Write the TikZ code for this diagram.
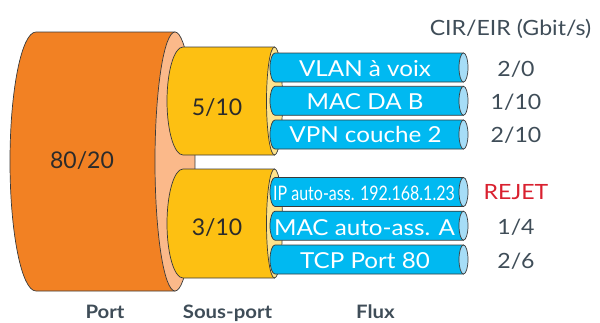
\documentclass[tikz,border=0pt]{standalone}
\usepackage{fontspec}
\setmainfont{Lato}
\newfontfamily\condfont[FakeStretch=0.8]{Lato}
\newfontfamily\widefont[FakeStretch=1.1]{Lato}

\definecolor{portorange}{HTML}{F28123}
\definecolor{portface}{HTML}{FBB98A}
\definecolor{subyellow}{HTML}{FDC012}
\definecolor{subface}{HTML}{FEE38C}
\definecolor{flowblue}{HTML}{00B9F1}
\definecolor{flowface}{HTML}{A6DDF7}
\definecolor{outline}{HTML}{3A3A3A}
\definecolor{slate}{HTML}{3F4D58}
\definecolor{rejectred}{HTML}{D9202F}
\definecolor{darktext}{HTML}{2B2B2B}

% cylinder lying on its side:
% #1 centre y, #2 half height, #3 back arc centre x, #4 back arc x radius,
% #5 front face centre x, #6 front face x radius, #7 body colour, #8 face colour
\newcommand\drawcyl[8]{%
  \filldraw[cylline, fill=#7] (#5,#1-#2) -- (#3,#1-#2)
    arc[start angle=270, end angle=90, x radius=#4, y radius=#2]
    -- (#5,#1+#2) -- cycle;
  \filldraw[cylline, fill=#8] (#5,#1) ellipse[x radius=#6, y radius=#2];
}
\newcommand\flowtube[1]{\drawcyl{#1}{14.5}{275}{5}{463.5}{4.5}{flowblue}{flowface}}

\begin{document}
\begin{tikzpicture}[x=1pt, y=-1pt,
  cylline/.style={draw=outline, line width=0.7pt},
  flowtext/.style={anchor=base, text=white, font=\widefont\fontsize{22}{26}\selectfont, inner sep=0pt},
  ratetext/.style={anchor=base, text=slate, font=\widefont\fontsize{21}{25}\selectfont, inner sep=0pt},
  cyltext/.style={anchor=base, text=darktext, font=\fontsize{23}{27}\selectfont, inner sep=0pt},
  legendtext/.style={anchor=base, text=slate, font=\widefont\bfseries\fontsize{18.5}{22}\selectfont, inner sep=0pt}]
\useasboundingbox (0,0) rectangle (600,322);

% port
\drawcyl{161.5}{129.5}{36}{26}{175}{20}{portorange}{portface}
% sub-ports
\drawcyl{101}{54}{183}{16}{274.5}{8}{subyellow}{subface}
\drawcyl{223.5}{54.5}{183}{16}{274.5}{8}{subyellow}{subface}
% flows
\flowtube{67.5}
\flowtube{100.8}
\flowtube{134.5}
\flowtube{192}
\flowtube{225.7}
\flowtube{259.5}

% texts on the cylinders
\node[cyltext] (port) at (82,168) {80/20};
\node[cyltext] (sub1) at (217,115) {5/10};
\node[cyltext] (sub2) at (217,235) {3/10};

\node[flowtext] (f1) at (365,76) {VLAN à voix};
\node[flowtext] (f2) at (365,109.5) {MAC DA B};
\node[flowtext] (f3) at (365.5,142.5) {VPN couche 2};
\node[flowtext, font=\condfont\fontsize{20}{24}\selectfont] (f4) at (364,200) {IP auto-ass. 192.168.1.23};
\node[flowtext] (f5) at (364.5,235) {MAC auto-ass. A};
\node[flowtext] (f6) at (365,268) {TCP Port 80};

% rates
\node[ratetext] (head) at (510.5,35) {CIR/EIR (Gbit/s)};
\node[ratetext] (r1) at (516,76) {2/0};
\node[ratetext] (r2) at (516,109) {1/10};
\node[ratetext] (r3) at (516,142) {2/10};
\node[ratetext, text=rejectred] (r4) at (516,199) {REJET};
\node[ratetext] (r5) at (516,234) {1/4};
\node[ratetext] (r6) at (516,268) {2/6};

% legend
\node[legendtext] (lport) at (105,318.5) {Port};
\node[legendtext] (lsub) at (227.5,318.5) {Sous-port};
\node[legendtext] (lflux) at (375.5,318.5) {Flux};
\end{tikzpicture}
\end{document}
